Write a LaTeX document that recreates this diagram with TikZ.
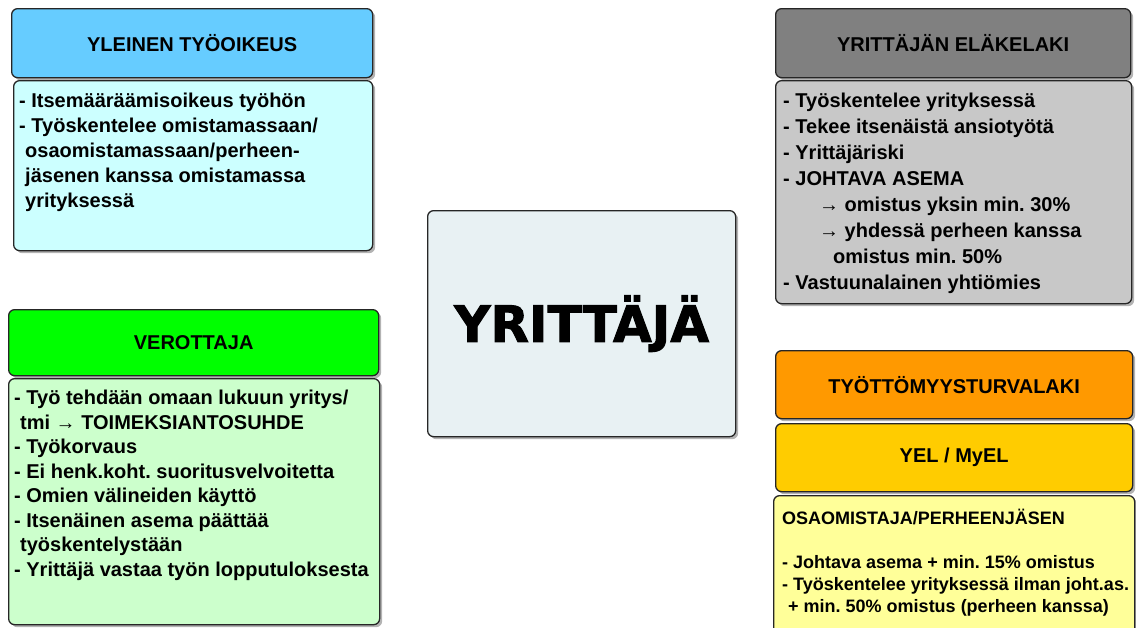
\documentclass[tikz,border=0pt]{standalone}
\usepackage{fontspec}
\setmainfont{Liberation Sans}
\newfontfamily\blockfont{DejaVu Sans}[BoldFeatures={FakeBold=2}]
\usepackage{xcolor}
\usetikzlibrary{positioning,shadows}

\definecolor{tyoHead}{HTML}{66CCFF}
\definecolor{tyoBody}{HTML}{CCFFFF}
\definecolor{elaHead}{HTML}{808080}
\definecolor{elaBody}{HTML}{C8C8C8}
\definecolor{veroHead}{HTML}{00FF00}
\definecolor{veroBody}{HTML}{CCFFCC}
\definecolor{turvaHead}{HTML}{FF9900}
\definecolor{yelHead}{HTML}{FFCC00}
\definecolor{osaBody}{HTML}{FFFF99}
\definecolor{coreFill}{HTML}{E8F1F3}

\frenchspacing

\begin{document}
\begin{tikzpicture}[
    x=1pt, y=-1pt,
    every node/.style={font=\fontsize{20}{25}\selectfont\bfseries},
    % all boxes share the rounded outline and the shadow
    box/.style={
        rectangle,
        draw=black!85,
        line width=1.3pt,
        rounded corners=6pt,
        anchor=north west,
        inner sep=0pt,
        drop shadow={opacity=0.6, shadow xshift=2.5pt, shadow yshift=-2.5pt}
    },
    header/.style={box, align=center},
    listtext/.style={anchor=north west, align=left, inner sep=0pt}
]

\useasboundingbox (0,0) rectangle (1136,627);
\clip (0,0) rectangle (1136,627);

% Yleinen tyooikeus (top left)
\node[header, fill=tyoHead, minimum width=361pt, minimum height=69pt] (tyo-head) at (11,8) {YLEINEN TYÖOIKEUS};
\node[box, fill=tyoBody, minimum width=359pt, minimum height=170pt] (tyo-body) at (13,80) {};
\node[listtext, below right=13pt and 6pt of tyo-body.north west] (tyo-text) {%
    - Itsemääräämisoikeus työhön\\
    - Työskentelee omistamassaan/\\
    \hspace*{6pt}osaomistamassaan/perheen-\\
    \hspace*{6pt}jäsenen kanssa omistamassa\\
    \hspace*{6pt}yrityksessä};

% Verottaja (bottom left)
\node[header, fill=veroHead, minimum width=370pt, minimum height=66pt] (vero-head) at (8,309) {VEROTTAJA};
\node[box, fill=veroBody, minimum width=371pt, minimum height=246pt] (vero-body) at (8,378) {};
\node[listtext, below right=12pt and 6pt of vero-body.north west, font=\fontsize{20}{24.5}\selectfont\bfseries] (vero-text) {%
    - Työ tehdään omaan lukuun yritys/\\
    \hspace*{6pt}tmi → TOIMEKSIANTOSUHDE\\
    - Työkorvaus\\
    - Ei henk.koht. suoritusvelvoitetta\\
    - Omien välineiden käyttö\\
    - Itsenäinen asema päättää\\
    \hspace*{6pt}työskentelystään\\
    - Yrittäjä vastaa työn lopputuloksesta};

% Yrittaja (centre)
\node[box, fill=coreFill, minimum width=308pt, minimum height=226pt, font=\blockfont\fontsize{50}{50}\selectfont\bfseries] (core) at (427,210) {YRITTÄJÄ};

% Yrittajan elakelaki (top right)
\node[header, fill=elaHead, minimum width=355pt, minimum height=69pt] (ela-head) at (775,8) {YRITTÄJÄN ELÄKELAKI};
\node[box, fill=elaBody, minimum width=356pt, minimum height=223pt] (ela-body) at (775,80) {};
\node[listtext, below right=13pt and 8pt of ela-body.north west, font=\fontsize{20}{26}\selectfont\bfseries] (ela-text) {%
    - Työskentelee yrityksessä\\
    - Tekee itsenäistä ansiotyötä\\
    - Yrittäjäriski\\
    - JOHTAVA ASEMA\\
    \hspace*{36pt}→ omistus yksin min. 30\%\\
    \hspace*{36pt}→ yhdessä perheen kanssa\\
    \hspace*{50pt}omistus min. 50\%\\
    - Vastuunalainen yhtiömies};

% Tyottomyysturvalaki, YEL / MyEL and osaomistaja (bottom right)
\node[header, fill=turvaHead, minimum width=357pt, minimum height=68pt] (turva-head) at (775,350) {TYÖTTÖMYYSTURVALAKI};
\node[header, fill=yelHead, minimum width=357pt, minimum height=68pt] (yel-head) at (775,423) {YEL / MyEL};
\node[box, fill=osaBody, minimum width=361pt, minimum height=160pt] (osa-body) at (773,495) {};
\node[listtext, below right=14pt and 9pt of osa-body.north west, font=\fontsize{18}{22}\selectfont\bfseries] (osa-text) {%
    OSAOMISTAJA/PERHEENJÄSEN\\[22pt]
    - Johtava asema + min. 15\% omistus\\
    - Työskentelee yrityksessä ilman joht.as.\\
    \hspace*{6pt}+ min. 50\% omistus (perheen kanssa)};

\end{tikzpicture}
\end{document}
